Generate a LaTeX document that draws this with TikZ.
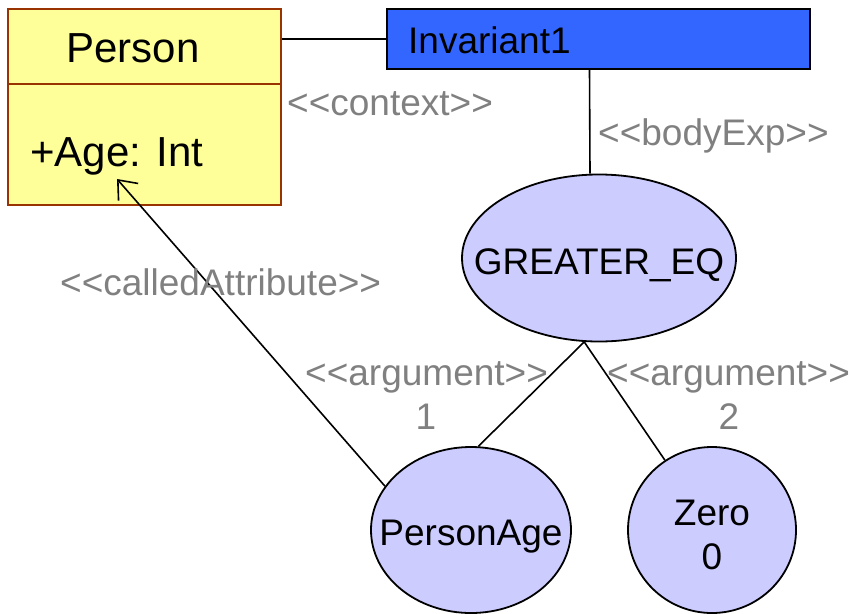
\documentclass[tikz,border=0pt]{standalone}
\usepackage{fontspec}
\setmainfont{Liberation Sans}
\usetikzlibrary{shapes.geometric,arrows.meta}
\definecolor{classfill}{HTML}{FFFF99}
\definecolor{classline}{HTML}{993300}
\definecolor{invfill}{HTML}{3366FF}
\definecolor{exprfill}{HTML}{CCCCFF}
\definecolor{stereo}{HTML}{808080}
\tikzset{
  big/.style={font=\fontsize{42}{48}\selectfont, inner sep=0},
  txt/.style={font=\fontsize{37}{44}\selectfont, inner sep=0},
  classbox/.style={draw=classline, fill=classfill, line width=2pt,
    minimum width=273pt, inner sep=0},
  invbox/.style={draw=black, fill=invfill, line width=2pt,
    minimum width=423pt, minimum height=60pt, inner sep=0},
  expr/.style={ellipse, draw=black, fill=exprfill, line width=1.8pt,
    inner sep=0},
  stereotype/.style={txt, text=stereo},
  link/.style={draw=black, line width=1.6pt},
}
\begin{document}
\begin{tikzpicture}[x=1pt,y=-1pt]
  \useasboundingbox (0,0) rectangle (850,613);

  % class Person: name compartment and attribute compartment
  \node[classbox, minimum height=121pt] (attrs) at (144.5,144.5) {};
  \node[classbox, minimum height=75pt] (person) at (144.5,46.5) {};
  \node[big, anchor=base] (pname) at (133,62) {Person};
  \node[big, anchor=base west] (age) at (30,166) {+Age: Int};
  \coordinate (agetip) at (117,179);

  % invariant
  \node[invbox] (inv) at (598.5,39) {};
  \node[txt, anchor=base west] (invname) at (408,53) {Invariant1};

  % expression tree
  \node[expr, minimum width=274pt, minimum height=167pt] (G) at (599,258) {};
  \node[expr, minimum width=200pt, minimum height=166pt] (PA) at (471,530) {};
  \node[expr, minimum width=168pt, minimum height=166pt] (Z) at (712,530) {};
  \node[txt, anchor=base] (gname) at (599,274) {GREATER\_EQ};
  \node[txt, anchor=base] (paname) at (471,545) {PersonAge};
  \node[txt, anchor=base] (zname) at (712,525) {Zero};
  \node[txt, anchor=base] (zval) at (712,569) {0};

  % connectors
  \draw[link] (inv.west) -- (inv.west -| person.east);
  \draw[link] ([xshift=-9pt]inv.south) -- ([xshift=-9pt]G.north);
  \draw[link] (G.260) -- (PA.85);
  \draw[link] (G.260) -- (Z.124);
  \draw[link, -{Straight Barb[length=16pt,width=26pt,line width=1.6pt]}] (PA.153) -- (agetip);

  % stereotype labels
  \node[stereotype, anchor=base west] (lctx) at (287,115) {<{}<context>{}>};
  \node[stereotype, anchor=base west] (lbody) at (598,145) {<{}<bodyExp>{}>};
  \node[stereotype, anchor=base west] (lcall) at (60,295) {<{}<calledAttribute>{}>};
  \node[stereotype, anchor=base west] (larg1) at (305,385) {<{}<argument>{}>};
  \node[stereotype, anchor=base west] (larg2) at (607,385) {<{}<argument>{}>};
  \node[stereotype, anchor=base] (n1) at (426,429) {1};
  \node[stereotype, anchor=base] (n2) at (729,429) {2};
\end{tikzpicture}
\end{document}
